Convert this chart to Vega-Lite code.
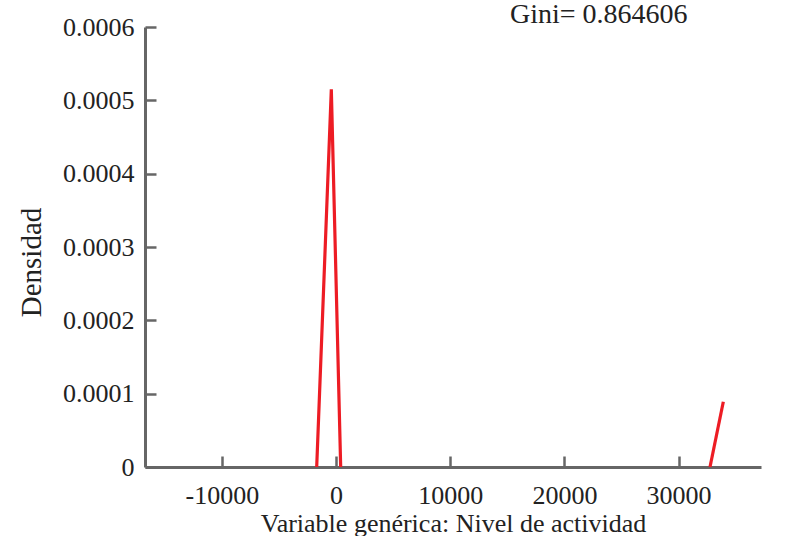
{
  "$schema": "https://vega.github.io/schema/vega-lite/v6.json",
  "width": 616,
  "height": 440,
  "autosize": "none",
  "padding": {"left": 145, "top": 27, "right": 43, "bottom": 69},
  "background": "white",
  "config": {
    "view": {"stroke": null},
    "font": "Liberation Serif"
  },
  "title": {
    "text": ["Kernel de Epanechnikov", "ancho de banda= 53.2401", "Gini= 0.864606"],
    "orient": "top",
    "anchor": "start",
    "frame": "group",
    "align": "left",
    "baseline": "top",
    "dx": 365,
    "offset": -15,
    "font": "Liberation Serif",
    "fontSize": 28,
    "fontWeight": "normal",
    "lineHeight": 34,
    "color": "#222222"
  },
  "data": {
    "values": [
      {"x": -1690, "density": 0, "segment": "a"},
      {"x": -410, "density": 0.000515, "segment": "a"},
      {"x": 410, "density": 0, "segment": "a"},
      {"x": 32750, "density": 0, "segment": "b"},
      {"x": 33915, "density": 0.000089, "segment": "b"}
    ]
  },
  "mark": {"type": "line", "color": "#ed1c24", "strokeWidth": 3.2, "clip": false},
  "encoding": {
    "x": {
      "field": "x",
      "type": "quantitative",
      "scale": {"domain": [-16725, 37215], "nice": false, "zero": false},
      "axis": {
        "title": "Variable genérica: Nivel de actividad",
        "values": [-10000, 0, 10000, 20000, 30000],
        "labelExpr": "replace(format(datum.value, 'd'), '\u2212', '-')",
        "grid": false,
        "domainColor": "#666666",
        "domainWidth": 3,
        "tickColor": "#666666",
        "tickWidth": 2.5,
        "tickSize": -11,
        "labelPadding": 26,
        "labelFont": "Liberation Serif",
        "labelFontSize": 26,
        "labelColor": "#222222",
        "titleFont": "Liberation Serif",
        "titleFontSize": 26,
        "titleFontWeight": "normal",
        "titleColor": "#222222",
        "titlePadding": 2
      }
    },
    "y": {
      "field": "density",
      "type": "quantitative",
      "scale": {"domain": [0, 0.0006], "nice": false},
      "axis": {
        "title": "Densidad",
        "values": [0, 0.0001, 0.0002, 0.0003, 0.0004, 0.0005, 0.0006],
        "labelExpr": "datum.value == 0 ? '0' : format(datum.value, '.4f')",
        "grid": false,
        "domainColor": "#666666",
        "domainWidth": 3,
        "tickColor": "#666666",
        "tickWidth": 2.5,
        "tickSize": -11,
        "labelPadding": 22,
        "labelFont": "Liberation Serif",
        "labelFontSize": 26,
        "labelColor": "#222222",
        "titleFont": "Liberation Serif",
        "titleFontSize": 29,
        "titleFontWeight": "normal",
        "titleColor": "#222222",
        "titlePadding": 16,
        "titleY": 235
      }
    },
    "detail": {"field": "segment"}
  }
}
